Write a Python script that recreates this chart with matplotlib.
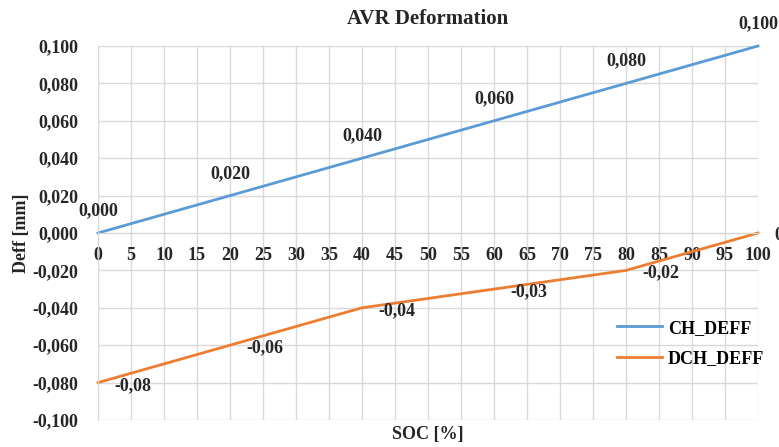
"""
AVR Deformation chart
"""

import matplotlib
matplotlib.use("Agg")
import matplotlib.pyplot as plt
from matplotlib.ticker import FuncFormatter, MultipleLocator

soc = [0, 20, 40, 60, 80, 100]
ch_deff = [0.000, 0.020, 0.040, 0.060, 0.080, 0.100]
dch_deff = [-0.08, -0.06, -0.04, -0.03, -0.02, 0.0]
ch_labels = ["0,000", "0,020", "0,040", "0,060", "0,080", "0,100"]
dch_labels = ["-0,08", "-0,06", "-0,04", "-0,03", "-0,02", "0"]

BLUE = "#5B9BD5"
ORANGE = "#ED7D31"
TXT = "#262626"
GRID = "#D9D9D9"
FS = 13

plt.rcParams["font.family"] = ["Liberation Serif", "DejaVu Serif"]
plt.rcParams["font.weight"] = "bold"

fig = plt.figure(figsize=(7.79, 4.47), dpi=100)
ax = fig.add_axes([0.1258, 0.0604, 0.8472, 0.8367])

ax.plot(soc, ch_deff, color=BLUE, lw=2.0, label="CH_DEFF", clip_on=False)
ax.plot(soc, dch_deff, color=ORANGE, lw=2.0, label="DCH_DEFF", clip_on=False)

for x, y, s in zip(soc, ch_deff, ch_labels):
    ax.annotate(s, (x, y), xytext=(0, 16), textcoords="offset points",
                ha="center", va="center", fontsize=FS, fontweight="bold",
                color=TXT, annotation_clip=False)
for x, y, s in zip(soc, dch_deff, dch_labels):
    ax.annotate(s, (x, y), xytext=(12, -2), textcoords="offset points",
                ha="left", va="center", fontsize=FS, fontweight="bold",
                color=TXT, annotation_clip=False)

ax.set_xlim(0, 100)
ax.set_ylim(-0.1, 0.1)
ax.xaxis.set_major_locator(MultipleLocator(5))
ax.yaxis.set_major_locator(MultipleLocator(0.02))
ax.yaxis.set_major_formatter(FuncFormatter(lambda v, p: f"{v:.3f}".replace(".", ",").replace("-0,000", "0,000")))
ax.xaxis.set_major_formatter(FuncFormatter(lambda v, p: f"{v:.0f}"))

ax.spines["bottom"].set_position(("data", 0))
for side in ["top", "right"]:
    ax.spines[side].set_visible(False)
ax.spines["bottom"].set_color(GRID)
ax.spines["left"].set_color(GRID)
ax.grid(True, color=GRID, lw=1.0)
ax.set_axisbelow(True)
ax.tick_params(length=0, labelsize=FS, colors=TXT)
ax.tick_params(axis="x", pad=10)
ax.tick_params(axis="y", pad=14)
for lab in ax.get_xticklabels() + ax.get_yticklabels():
    lab.set_fontweight("bold")

ax.set_title("AVR Deformation", fontsize=15, fontweight="bold", color=TXT, pad=16)
ax.set_ylabel("Deff [mm]", fontsize=FS, fontweight="bold", color=TXT, labelpad=2)
fig.text(0.549, 0.027, "SOC [%]", ha="center", va="center", fontsize=FS,
         fontweight="bold", color=TXT)

ax.legend(loc="center left", bbox_to_anchor=(0.762, 0.205), frameon=False,
          prop={"size": FS, "weight": "bold"}, handlelength=2.5,
          handletextpad=0.3, labelspacing=0.75)

fig.savefig("out.png", dpi=100)
